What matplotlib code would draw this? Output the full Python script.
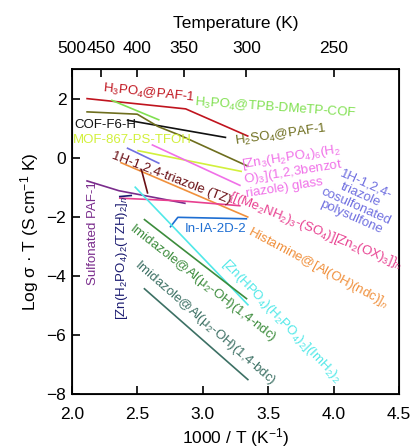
import matplotlib
matplotlib.use("Agg")
import matplotlib.pyplot as plt

plt.rcParams['font.family'] = ['Liberation Sans', 'DejaVu Sans']
plt.rcParams['mathtext.fontset'] = 'custom'
plt.rcParams['mathtext.rm'] = 'Liberation Sans'
plt.rcParams['mathtext.it'] = 'Liberation Sans:italic'
plt.rcParams['axes.unicode_minus'] = True

# Conductivity traces (x = 1000/T, y = log(sigma*T))
h3po4_paf_x = [2.11, 2.87, 3.35]
h3po4_paf_y = [2.00, 1.65, 0.72]
tpb_cof_x = [2.30, 2.67]
tpb_cof_y = [1.95, 1.27]
cof_f6h_x = [2.42, 3.18]
cof_f6h_y = [1.27, 0.68]
h2so4_paf_x = [2.11, 2.50, 2.66, 2.83, 3.35]
h2so4_paf_y = [1.55, 1.47, 1.05, 0.75, -0.30]
mof867_x = [2.50, 3.30]
mof867_y = [0.24, -0.47]
zn_glass_x = [2.61, 3.29]
zn_glass_y = [0.44, -0.95]
tz_psf_x = [2.42, 2.67]
tz_psf_y = [0.33, -0.20]
tz_x = [2.53, 2.58]
tz_y = [-0.38, -1.22]
histamine_x = [2.37, 3.35]
histamine_y = [-0.16, -2.02]
me2nh2_x = [2.36, 2.85, 3.29]
me2nh2_y = [-1.37, -1.47, -1.63]
spaf_x = [2.11, 2.36, 2.87]
spaf_y = [-0.78, -1.12, -1.55]
zn_tzh_x = [2.36, 2.46]
zn_tzh_y = [-1.32, -1.28]
in_ia_x = [2.75, 2.81, 3.34]
in_ia_y = [-2.36, -2.02, -2.07]
zn_imh_x = [2.48, 3.35]
zn_imh_y = [-0.98, -5.00]
imid_ndc_x = [2.55, 3.34]
imid_ndc_y = [-2.08, -4.79]
imid_bdc_x = [2.55, 3.35]
imid_bdc_y = [-4.42, -7.53]

bottom_ticks = [2.0, 2.5, 3.0, 3.5, 4.0, 4.5]
left_ticks = [-8, -6, -4, -2, 0, 2]
temp_ticks = [500, 450, 400, 350, 300, 250]

series = [
    (h3po4_paf_x, h3po4_paf_y, '#c0141e'),
    (tpb_cof_x, tpb_cof_y, '#80e050'),
    (cof_f6h_x, cof_f6h_y, '#111111'),
    (h2so4_paf_x, h2so4_paf_y, '#6e6e1e'),
    (mof867_x, mof867_y, '#d2f03c'),
    (zn_glass_x, zn_glass_y, '#f070e8'),
    (tz_psf_x, tz_psf_y, '#7070e0'),
    (histamine_x, histamine_y, '#f0903c'),
    (spaf_x, spaf_y, '#7a2c8c'),
    (me2nh2_x, me2nh2_y, '#e84090'),
    (tz_x, tz_y, '#6a0f14'),
    (zn_tzh_x, zn_tzh_y, '#1a1a70'),
    (in_ia_x, in_ia_y, '#1e6ed2'),
    (zn_imh_x, zn_imh_y, '#50e8e8'),
    (imid_ndc_x, imid_ndc_y, '#3c8c3c'),
    (imid_bdc_x, imid_bdc_y, '#3c7064'),
]

# label text, x, y, rotation, colour, horizontal alignment
labels = [
    ('H$_3$PO$_4$@PAF-1', 2.59, 2.17, -6, '#c0141e', 'center'),
    ('H$_3$PO$_4$@TPB-DMeTP-COF', 3.56, 1.69, -4, '#80e050', 'center'),
    ('COF-F6-H', 2.02, 1.12, 0, '#111111', 'left'),
    ('MOF-867-PS-TFOH', 2.01, 0.58, 0, '#d2f03c', 'left'),
    ('H$_2$SO$_4$@PAF-1', 3.60, 0.75, 8, '#6e6e1e', 'center'),
    ('[Zn$_3$(H$_2$PO$_4$)$_6$(H$_2$\nO)$_3$](1,2,3benzot\nriazole) glass',
     3.69, -0.44, 9, '#f070e8', 'center'),
    ('1H-1,2,4-\ntriazole\ncosulfonated\npolysulfone', 4.19, -1.46, -24, '#7070e0', 'center'),
    ('1H-1,2,4-triazole (TZ)', 2.76, -0.70, -21, '#6a0f14', 'center'),
    ('{[(Me$_2$NH$_2$)$_3$-(SO$_4$)][Zn$_2$(OX)$_3$]}$_n$', 3.86, -2.45, -22, '#e84090', 'center'),
    ('Histamine@[Al(OH)(ndc)]$_n$', 3.88, -3.73, -28, '#f0903c', 'center'),
    ('In-IA-2D-2', 2.86, -2.41, 0, '#1e6ed2', 'left'),
    ('[Zn(HPO$_4$)(H$_2$PO$_4$)$_2$](ImH$_2$)$_2$', 3.60, -5.53, -46, '#50e8e8', 'center'),
    ('Imidazole@Al(μ$_2$-OH)(1,4-ndc)', 3.00, -4.24, -38, '#3c8c3c', 'center'),
    ('Imidazole@Al(μ$_2$-OH)(1,4-bdc)', 3.02, -5.59, -41, '#3c7064', 'center'),
    ('Sulfonated PAF-1', 2.16, -2.54, 90, '#7a2c8c', 'center'),
    ('[Zn(H$_2$PO$_4$)$_2$(TZH)$_2$]$_n$', 2.38, -3.39, 90, '#1a1a70', 'center'),
]

fig = plt.figure(figsize=(4.13, 4.48), dpi=100)
ax = fig.add_axes([0.174, 0.1205, 0.792, 0.7255])

for x, y, c in series:
    ax.plot(x, y, color=c, linewidth=1.2, solid_capstyle='butt')

for text, x, y, rot, c, ha in labels:
    ax.text(x, y, text, color=c, fontsize=9.5, rotation=rot, ha=ha, va='center',
            multialignment='left' if ha == 'left' or rot == 9 else 'center',
            rotation_mode='anchor', linespacing=1.0)

ax.set_xlim(2.0, 4.5)
ax.set_ylim(-8, 3)
ax.set_xticks(bottom_ticks)
ax.set_xticklabels([f"{v:.1f}" for v in bottom_ticks])
ax.set_yticks(left_ticks)
ax.tick_params(direction='in', length=6, width=1.2, labelsize=12.5)
ax.tick_params(axis='x', pad=9)
ax.tick_params(axis='y', pad=4)
for s in ax.spines.values():
    s.set_linewidth(1.3)
ax.set_xlabel('1000 / T (K$^{-1}$)', fontsize=12.5, labelpad=3)
ax.set_ylabel('Log σ · T (S cm$^{-1}$ K)', fontsize=12.5, labelpad=4)

top = ax.twiny()
top.set_xlim(ax.get_xlim())
top.set_xticks([1000.0 / t for t in temp_ticks])
top.set_xticklabels([str(t) for t in temp_ticks])
top.tick_params(direction='in', length=6, width=1.2, labelsize=12.5, pad=9)
top.set_xlabel('Temperature (K)', fontsize=12.5, labelpad=10)

fig.savefig('out.png', dpi=100)
